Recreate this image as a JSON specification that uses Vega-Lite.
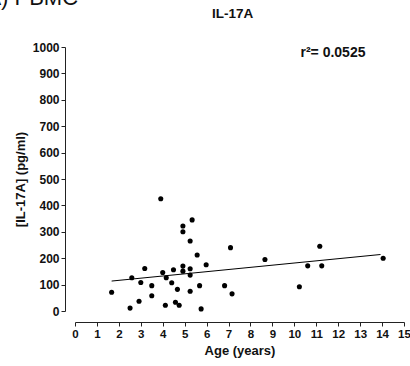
{
  "$schema": "https://vega.github.io/schema/vega-lite/v6.json",
  "autosize": {"type": "none"},
  "width": 329,
  "height": 264,
  "padding": {"left": 75, "top": 47, "right": 6, "bottom": 55},
  "background": "white",
  "config": {"view": {"stroke": null}, "font": "Liberation Sans"},
  "datasets": {
    "pts": [
      {"age": 3.91, "il17a": 425}, {"age": 5.34, "il17a": 345}, {"age": 4.92, "il17a": 322},
      {"age": 4.92, "il17a": 300}, {"age": 5.25, "il17a": 265}, {"age": 7.09, "il17a": 240},
      {"age": 11.16, "il17a": 245}, {"age": 14.05, "il17a": 200}, {"age": 8.66, "il17a": 195},
      {"age": 5.57, "il17a": 212}, {"age": 5.98, "il17a": 175}, {"age": 4.92, "il17a": 170},
      {"age": 4.49, "il17a": 156}, {"age": 4.92, "il17a": 151}, {"age": 5.25, "il17a": 160},
      {"age": 5.25, "il17a": 136}, {"age": 4.0, "il17a": 146}, {"age": 3.18, "il17a": 161},
      {"age": 2.59, "il17a": 126}, {"age": 4.16, "il17a": 126}, {"age": 3.0, "il17a": 108},
      {"age": 4.41, "il17a": 107}, {"age": 3.5, "il17a": 96}, {"age": 5.68, "il17a": 96},
      {"age": 6.82, "il17a": 96}, {"age": 4.67, "il17a": 82}, {"age": 5.25, "il17a": 75},
      {"age": 1.67, "il17a": 71}, {"age": 3.5, "il17a": 58}, {"age": 10.61, "il17a": 171},
      {"age": 11.25, "il17a": 171}, {"age": 10.23, "il17a": 92}, {"age": 7.16, "il17a": 65},
      {"age": 2.92, "il17a": 37}, {"age": 4.58, "il17a": 33}, {"age": 4.75, "il17a": 22},
      {"age": 4.12, "il17a": 22}, {"age": 2.51, "il17a": 11}, {"age": 5.75, "il17a": 8}
    ],
    "stat": [
      {"age": 10.28, "il17a": 977, "label": "r²= 0.0525"}
    ],
    "heading": [
      {"age": 7.19, "il17a": 1110, "label": "IL-17A"}
    ],
    "panel": [
      {"age": 0.14, "il17a": 1159, "label": "A) PBMC"}
    ]
  },
  "encoding": {
    "x": {
      "field": "age", "type": "quantitative",
      "scale": {"domain": [0, 15], "nice": false, "zero": false},
      "axis": {
        "title": "Age (years)", "values": [0,1,2,3,4,5,6,7,8,9,10,11,12,13,14,15],
        "format": "d", "labelOverlap": false,
        "offset": 11, "grid": false, "domainColor": "#222", "tickColor": "#222",
        "tickSize": 4, "labelFont": "Liberation Sans", "labelFontWeight": "bold",
        "labelFontSize": 11.5, "labelColor": "#111", "labelPadding": 2,
        "titleFont": "Liberation Sans", "titleFontWeight": "bold", "titleFontSize": 13,
        "titleColor": "#111", "titlePadding": 5, "labelFlush": false
      }
    },
    "y": {
      "field": "il17a", "type": "quantitative",
      "scale": {"domain": [0, 1000], "nice": false},
      "axis": {
        "title": "[IL-17A] (pg/ml)", "values": [0,100,200,300,400,500,600,700,800,900,1000],
        "format": "d", "labelOverlap": false,
        "offset": 10, "grid": false, "domainColor": "#222", "tickColor": "#222",
        "tickSize": 4, "labelFont": "Liberation Sans", "labelFontWeight": "bold",
        "labelFontSize": 12, "labelColor": "#111", "labelPadding": 2,
        "titleFont": "Liberation Sans", "titleFontWeight": "bold", "titleFontSize": 13,
        "titleColor": "#111", "titlePadding": 5, "labelFlush": false
      }
    }
  },
  "layer": [
    {
      "data": {"name": "pts"},
      "mark": {"type": "circle", "size": 26, "opacity": 1, "color": "black"}
    },
    {
      "data": {"name": "pts"},
      "transform": [{"regression": "il17a", "on": "age", "extent": [1.67, 13.93]}],
      "mark": {"type": "line", "color": "black", "strokeWidth": 1}
    },
    {
      "data": {"name": "stat"},
      "mark": {"type": "text", "align": "left", "baseline": "middle", "fontSize": 14, "fontWeight": "bold", "font": "Liberation Sans", "color": "#111"},
      "encoding": {"text": {"field": "label"}}
    },
    {
      "data": {"name": "heading"},
      "mark": {"type": "text", "align": "center", "baseline": "alphabetic", "fontSize": 13.5, "fontWeight": "bold", "font": "Liberation Sans", "color": "#111"},
      "encoding": {"text": {"field": "label"}}
    },
    {
      "data": {"name": "panel"},
      "mark": {"type": "text", "align": "right", "baseline": "alphabetic", "fontSize": 22, "font": "Liberation Sans", "color": "#111"},
      "encoding": {"text": {"field": "label"}}
    }
  ]
}
